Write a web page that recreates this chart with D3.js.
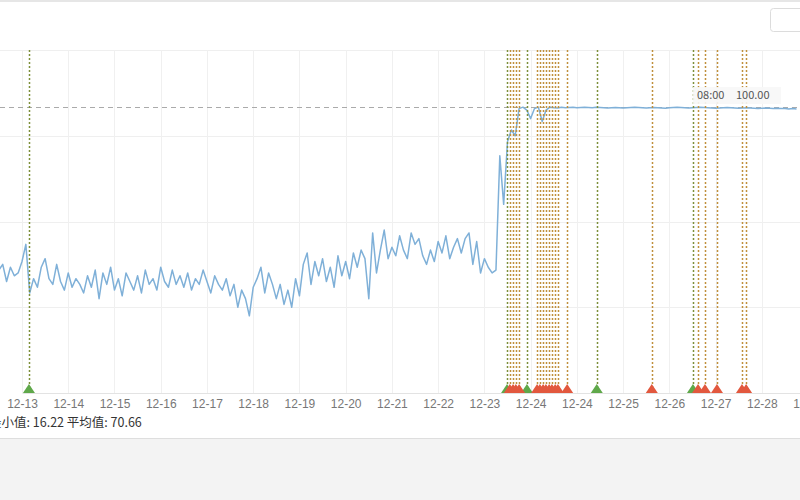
<!DOCTYPE html>
<html><head><meta charset="utf-8">
<script src="https://cdn.jsdelivr.net/npm/d3@7"></script>
<style>
html,body{margin:0;padding:0;background:#fff;overflow:hidden;}
svg{display:block;font-family:"Microsoft YaHei","Noto Sans CJK SC","Noto Sans",sans-serif;}
</style></head>
<body>
<svg id="chart" width="800" height="500"></svg>
<script>
// x tick labels (one per day grid line)
const tickLabels = ["12-13","12-14","12-15","12-16","12-17","12-18","12-19","12-20","12-21","12-22","12-23","12-24","12-24","12-25","12-26","12-27","12-28","12-29"];
// y-axis ticks
const yTicks = [0, 30, 60, 90, 120];
// series: one sample every 2 hours, starting half a day before the first tick
const startDay = -0.5;
const stepDay = 1 / 12;
const values = [
  43, 45, 39, 44, 41, 42, 46, 52, 35, 40, 37, 44,
  47, 40, 38, 45, 39, 36, 42, 37, 40, 38, 35, 41,
  37, 43, 33, 42, 38, 44, 36, 40, 34, 42, 39, 36,
  41, 35, 43, 38, 40, 36, 44, 39, 37, 43, 38, 41,
  37, 42, 36, 40, 38, 43, 39, 35, 41, 38, 36, 40,
  34, 38, 30, 36, 33, 27, 37, 40, 44, 35, 42, 38,
  33, 38, 31, 36, 30, 40, 34, 45, 49, 38, 46, 41,
  47, 39, 44, 37, 48, 41, 46, 40, 49, 44, 50, 47,
  33, 56, 42, 50, 57, 47, 51, 48, 55, 50, 47, 56,
  52, 54, 48, 45, 50, 46, 53, 49, 55, 47, 51, 54,
  49, 54, 56, 45, 53, 42, 47, 44, 42, 43, 83, 66,
  88, 92, 90, 99.5, 100, 99, 96, 99.5, 100, 95, 99, 100,
  99.8, 99.7, 100, 99.8, 99.9, 100, 99.8, 99.9, 100, 99.9, 99.8, 100,
  99.9, 99.8, 99.7, 99.8, 99.9, 99.8, 99.7, 99.8, 99.9, 100, 99.9, 99.8,
  99.7, 99.8, 99.9, 99.8, 99.7, 99.6, 99.8, 99.9, 100, 99.9, 99.8, 99.7,
  99.8, 99.9, 100, 99.9, 99.8, 99.7, 99.6, 99.7, 99.8, 99.9, 99.8, 99.7,
  99.6, 99.7, 99.8, 99.7, 99.6, 99.5, 99.6, 99.7, 99.6, 99.5, 99.6, 99.5,
  99.5, 99.4, 99.5, 99.4
];
// alarm events (day offset from 12-13 00:00)
const greenEvents = [0.15, 10.49, 10.92, 12.43, 14.51];
const redEvents = [10.55, 10.62, 10.68, 10.75, 11.14, 11.20, 11.27, 11.33, 11.40, 11.46, 11.53, 11.59, 11.79, 13.62, 14.62, 14.77, 15.03, 15.57, 15.66];
const markValue = 100;
const markText = ["08:00", "100.00"];
const statsText = "最小值: 16.22  平均值: 70.66";

const svg = d3.select("#chart");
const W = 800, H = 500;
const plotTop = 50, plotBottom = 393;

// page frame
svg.append("rect").attr("x",0).attr("y",0).attr("width",W).attr("height",H).attr("fill","#fff");
svg.append("rect").attr("x",0).attr("y",0).attr("width",W).attr("height",2).attr("fill","#e6e6e6");
svg.append("rect").attr("x",0).attr("y",438).attr("width",W).attr("height",62).attr("fill","#f3f3f3");
svg.append("line").attr("x1",0).attr("x2",W).attr("y1",438.5).attr("y2",438.5).attr("stroke","#dedede");
svg.append("rect").attr("x",770.5).attr("y",8.5).attr("width",40).attr("height",23).attr("rx",3)
  .attr("fill","#fff").attr("stroke","#dcdcdc");

const x = d3.scaleLinear().domain([0, 17]).range([22, 22 + 17 * 46.24]);
const y = d3.scaleLinear().domain([0, 120]).range([plotBottom, plotTop]);

// grid
const g = svg.append("g");
g.selectAll(".hg").data(yTicks.slice(1)).join("line")
  .attr("x1",0).attr("x2",W).attr("y1",d=>Math.round(y(d))+0.5).attr("y2",d=>Math.round(y(d))+0.5)
  .attr("stroke","#efefef");
g.selectAll(".vg").data(d3.range(tickLabels.length)).join("line")
  .attr("x1",d=>Math.round(x(d))+0.5).attr("x2",d=>Math.round(x(d))+0.5).attr("y1",plotTop).attr("y2",plotBottom)
  .attr("stroke","#f0f0f0");

// x axis
const xAxis = d3.axisBottom(x).tickValues(d3.range(tickLabels.length)).tickFormat(i=>tickLabels[i]).tickSize(0).tickPadding(6);
const ax = svg.append("g").attr("transform",`translate(0,${plotBottom})`).call(xAxis);
ax.select(".domain").attr("stroke","#e3e3e3");
ax.selectAll("text").attr("fill","#777").attr("font-size","12px");

// mark line (max)
svg.append("line").attr("x1",0).attr("x2",W).attr("y1",Math.round(y(markValue))+0.5).attr("y2",Math.round(y(markValue))+0.5)
  .attr("stroke","#aaa").attr("stroke-dasharray","5,4");

// data line
const line = d3.line().x((d,i)=>x(startDay + i*stepDay)).y(d=>y(d));
svg.append("path").datum(values).attr("d",line).attr("fill","none")
  .attr("stroke","#7fb0d8").attr("stroke-width",1.5).attr("stroke-linejoin","round");

// event lines
function drawEvents(list, lineColor){
  svg.append("g").selectAll("line").data(list).join("line")
    .attr("x1",d=>Math.round(x(d))+0.5).attr("x2",d=>Math.round(x(d))+0.5)
    .attr("y1",plotTop).attr("y2",plotBottom-4)
    .attr("stroke",lineColor).attr("stroke-width",1.5).attr("stroke-dasharray","2,2");
}
function drawTris(list, triColor){
  svg.append("g").selectAll("path").data(list).join("path")
    .attr("d",d=>{const cx=x(d);return `M${cx-6},${plotBottom}L${cx},${plotBottom-9}L${cx+6},${plotBottom}Z`;})
    .attr("fill",triColor);
}
drawEvents(redEvents, "#c0903c");
drawEvents(greenEvents, "#7d8f3a");
drawTris(greenEvents, "#5fa84a");
drawTris(redEvents, "#e2583e");

// mark label
const lab = svg.append("g");
lab.append("rect").attr("x",693).attr("y",87).attr("width",88).attr("height",17).attr("fill","#f7f7f7").attr("opacity",0.9);
lab.append("text").attr("x",697).attr("y",99).attr("font-size","11px").attr("fill","#555").text(markText[0]);
lab.append("text").attr("x",736).attr("y",99).attr("font-size","11px").attr("fill","#555").text(markText[1]);

// stats
svg.append("text").attr("x",-11).attr("y",427).attr("font-size","12.5px").attr("fill","#333").text(statsText);
</script>
</body></html>
